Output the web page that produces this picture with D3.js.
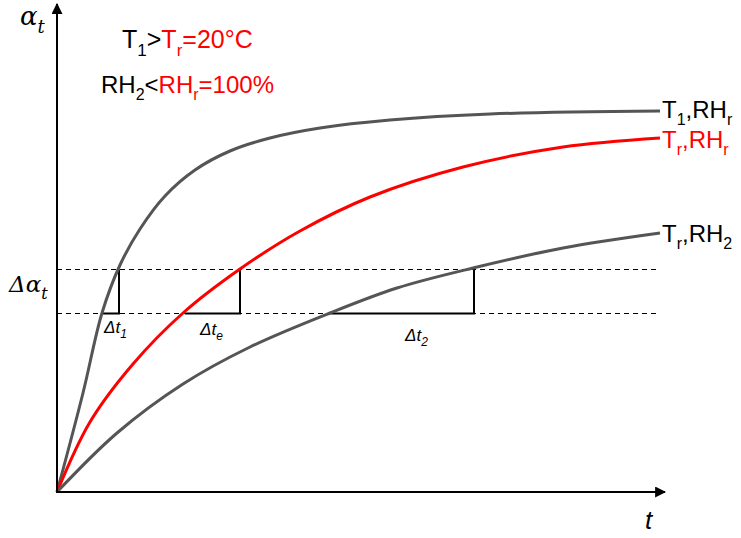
<!DOCTYPE html>
<html>
<head>
<meta charset="utf-8">
<script src="https://cdn.jsdelivr.net/npm/d3@7"></script>
<style>
body { margin: 0; background: #fff; }
svg { font-family: "Liberation Sans", Arial, sans-serif; }
</style>
</head>
<body>
<div id="chart"></div>
<script>
'use strict'

// curves: [t, alpha] in plot units (origin at bottom-left)
let curveT1RHr = [[0,0],[26,99],[45,179],[63,227],[83,263],[108,296],[138,322],[173,341],[213,354],[263,364],[333,372],[433,378],[603,381]]
let curveTrRHr = [[0,0],[33,70],[76,128],[126,179],[183,223],[243,261],[313,295],[406,325],[506,345],[603,354]]
let curveTrRH2 = [[0,0],[60,59],[126,108],[193,145],[273,179],[340,204],[416,224],[506,244],[603,259]]

let levels = [223, 179]   // delta alpha band
let deltaT = [[44, 62], [128, 183], [273, 417]]  // start/end t of each delta t

let width = 741, height = 538
let svg = d3.select("#chart").append("svg").attr("width", width).attr("height", height)

let xScale = d3.scaleLinear().domain([0, 600]).range([57, 657])
let yScale = d3.scaleLinear().domain([0, 450]).range([492, 42])

let red = "#ff0000", grey = "#555555"

let defs = svg.append("defs")
defs.append("marker").attr("id", "arr").attr("viewBox", "0 0 10 10")
	.attr("refX", 9).attr("refY", 5).attr("markerWidth", 11).attr("markerHeight", 11)
	.attr("markerUnits", "userSpaceOnUse").attr("orient", "auto")
	.append("path").attr("d", "M0,0 L10,5 L0,10 Z").attr("fill", "#000")

// dashed levels
levels.forEach(function(l){
	svg.append("line").attr("x1", xScale(0)).attr("x2", xScale(603))
		.attr("y1", Math.round(yScale(l)) + 0.5).attr("y2", Math.round(yScale(l)) + 0.5)
		.attr("stroke", "#000").attr("stroke-width", 1).attr("stroke-dasharray", "5,4")
})

// delta t triangles
deltaT.forEach(function(d){
	let y0 = Math.round(yScale(levels[1])) + 0.5, y1 = Math.round(yScale(levels[0])) + 0.5
	svg.append("path")
		.attr("d", "M" + xScale(d[0]) + "," + y0 + " L" + xScale(d[1]) + "," + y0 + " L" + xScale(d[1]) + "," + y1)
		.attr("fill", "none").attr("stroke", "#000").attr("stroke-width", 2)
})

let line = d3.line().x(function(d){ return xScale(d[0]) }).y(function(d){ return yScale(d[1]) })
	.curve(d3.curveCatmullRom.alpha(0.5))

let curves = [curveT1RHr, curveTrRHr, curveTrRH2]
let colors = [grey, red, grey]
curves.forEach(function(c, i){
	svg.append("path").datum(c).attr("d", line)
		.attr("fill", "none").attr("stroke", colors[i]).attr("stroke-width", 3)
})

// axes
svg.append("line").attr("x1", xScale(0)).attr("y1", yScale(0) + 1).attr("x2", xScale(0)).attr("y2", 4)
	.attr("stroke", "#000").attr("stroke-width", 2).attr("marker-end", "url(#arr)")
svg.append("line").attr("x1", xScale(0) - 1).attr("y1", yScale(0)).attr("x2", 665).attr("y2", yScale(0))
	.attr("stroke", "#000").attr("stroke-width", 2).attr("marker-end", "url(#arr)")

// rich text: segments of [text, colour, sub?]
function rich(x, y, size, segs, extra){
	let t = svg.append("text").attr("x", x).attr("y", y).attr("font-size", size)
	if (extra) extra(t)
	let shift = 0
	segs.forEach(function(s){
		let want = s[2] ? Math.round(size * 0.3) : 0
		let sp = t.append("tspan").attr("fill", s[1]).attr("dy", want - shift).text(s[0])
		if (s[2]) sp.attr("font-size", Math.round(size * 0.68))
		shift = want
	})
	return t
}

function italic(t){ t.attr("font-style", "italic") }

// axis labels
rich(20, 25, 26, [["α", "#000"], ["t", "#000", true]], function(t){
	t.attr("font-family", "'DejaVu Serif', serif").attr("font-style", "italic")
})
svg.append("text").attr("x", 645).attr("y", 529).attr("font-style", "italic").attr("font-size", 26).text("t")

rich(9, 292, 23, [["Δ", "#000"], ["α", "#000"], ["t", "#000", true]], function(t){
	t.attr("font-family", "'DejaVu Serif', serif").attr("font-style", "italic")
})

let dtLabels = [["1", 104, 333], ["e", 200, 335], ["2", 405, 341]]
dtLabels.forEach(function(d){
	rich(d[1], d[2], 17, [["Δt", "#000"], [d[0], "#000", true]], italic)
})

// conditions text
rich(122, 48, 25, [["T", "#000"], ["1", "#000", true], [">", "#000"], ["T", red], ["r", red, true], ["=20°C", red]])
rich(101, 93, 24, [["RH", "#000"], ["2", "#000", true], ["<", "#000"], ["RH", red], ["r", red, true], ["=100%", red]])

// series labels
let labelY = [118, 148, 242]
let labelSubs = [["1", "r"], ["r", "r"], ["r", "2"]]
let labelCol = ["#000", red, "#000"]
labelY.forEach(function(y, i){
	let c = labelCol[i]
	rich(662, y, 24, [["T", c], [labelSubs[i][0], c, true], [",RH", c], [labelSubs[i][1], c, true]])
})
</script>
</body>
</html>
